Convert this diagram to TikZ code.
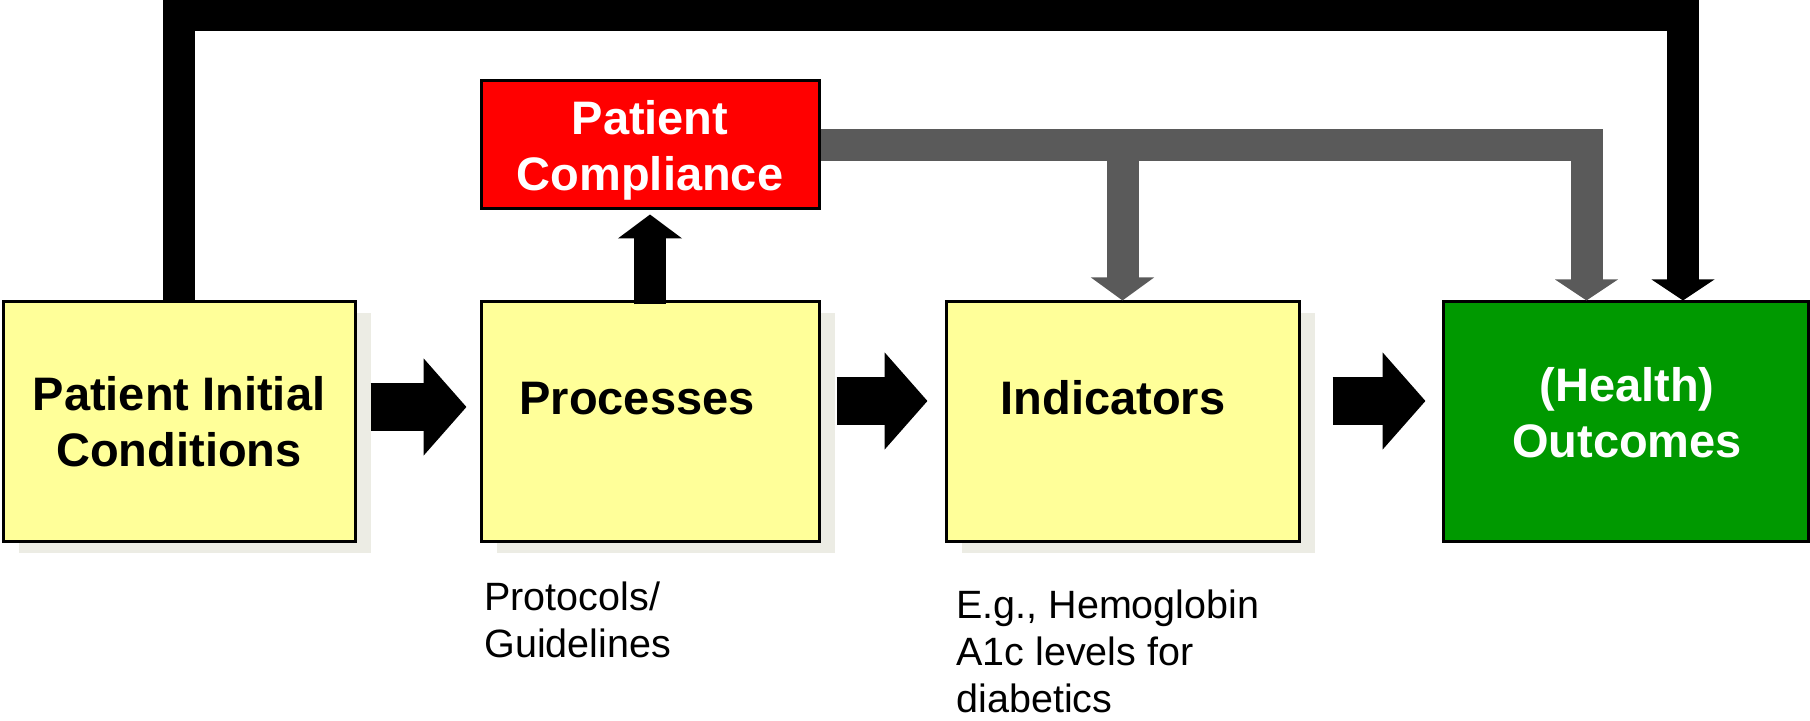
\documentclass[tikz,border=0pt]{standalone}
\usepackage{fontspec}
\setmainfont{Liberation Sans}
\usetikzlibrary{arrows.meta,shadows,calc}

\definecolor{boxyellow}{RGB}{255,255,153}
\definecolor{outgreen}{RGB}{0,153,0}
\definecolor{linkgray}{RGB}{90,90,90}
\definecolor{shadegray}{RGB}{236,236,228}

\newcommand{\stagefont}{\fontsize{23.5}{28}\selectfont\bfseries}
\newcommand{\notefont}{\fontsize{19.75}{23.5}\selectfont}

\begin{document}
\begin{tikzpicture}[x=0.5pt, y=0.5pt,
    box/.style={draw=black, line width=1.5pt, minimum height=120pt, inner sep=0pt, align=center, font=\stagefont},
    stage/.style={box, fill=boxyellow, drop shadow={shadow xshift=8pt, shadow yshift=-5.5pt, fill=shadegray, opacity=1}},
    goal/.style={box, fill=outgreen, text=white},
    redbox/.style={box, fill=red, text=white, minimum height=64pt, text depth=0pt},
    stagetext/.style={font=\stagefont, inner sep=0pt, align=center},
    note/.style={font=\notefont, align=left, inner sep=0pt},
    flow/.style={line width=24pt, -{Triangle[length=21.5pt, width=47.5pt]}},
    feedback/.style={line width=16pt, -{Triangle[length=10.5pt, width=31pt]}}]
    \useasboundingbox (0,0) rectangle (1810,721);
    % the four stages
    \node[stage, minimum width=176pt] (init) at (179,299) {Patient Initial\\Conditions};
    \node[stage, minimum width=169pt] (proc) at (650,299) {};
    \node[stage, minimum width=176.5pt] (ind) at (1122.5,299) {};
    \node[goal, minimum width=182.5pt] (out) at (1625.5,299) {};
    \node[stagetext, anchor=base] (proc-txt) at (637,306) {Processes};
    \node[stagetext, anchor=base] (ind-txt) at (1113,306) {Indicators};
    \node[stagetext, text=white] (out-txt) at (1627,308) {(Health)\\Outcomes};
    % compliance box
    \node[redbox, minimum width=169pt] (comp) at (650,576) {Patient\\Compliance};
    % notes below
    \node[note, anchor=north west] (proc-note) at (484,140) {Protocols/\\Guidelines};
    \node[note, anchor=north west] (ind-note) at (956,132) {E.g., Hemoglobin\\A1c levels for\\diabetics};
    % main flow
    \draw[flow, shorten <=7pt, shorten >=6.5pt] ([yshift=7.5pt]init.east) -- ([yshift=7.5pt]proc.west);
    \draw[flow, shorten <=8pt, shorten >=8.5pt] ([yshift=10.5pt]proc.east) -- ([yshift=10.5pt]ind.west);
    \draw[flow, shorten <=16pt, shorten >=8pt] ([yshift=10.5pt]ind.east) -- ([yshift=10.5pt]out.west);
    % feedback from initial conditions
    \draw[feedback] (init.north) -- ++(0,285) -| ($(out.north)+(57.5,0)$);
    % processes -> compliance
    \draw[feedback, -{Triangle[length=12pt, width=31.5pt]}, shorten >=2pt] ([yshift=-2pt]proc.north) -- (comp.south);
    % compliance -> indicators, outcomes
    \coordinate (split) at (ind.north |- comp.east);
    \draw[feedback, color=linkgray] (comp.east) -| ($(out.north)+(-39,0)$);
    \draw[feedback, color=linkgray, -{Triangle[length=11.5pt, width=31pt]}] (split) -- (ind.north);
\end{tikzpicture}
\end{document}
